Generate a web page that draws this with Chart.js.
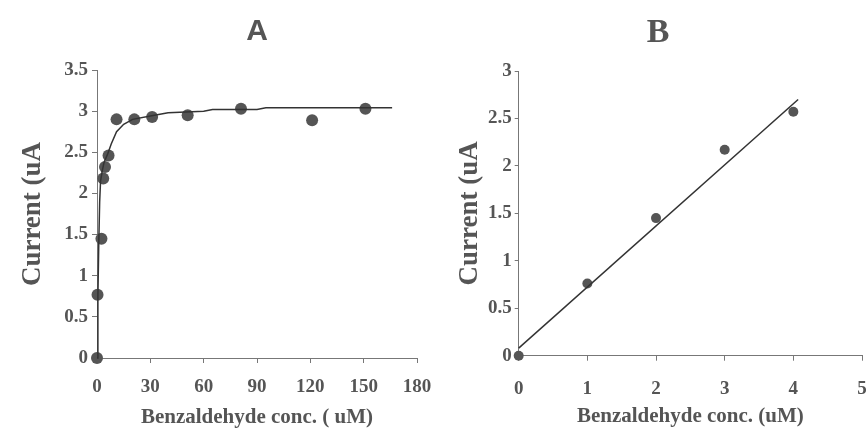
<!DOCTYPE html>
<html>
<head>
<meta charset="utf-8">
<script src="https://cdn.jsdelivr.net/npm/chart.js@4"></script>
<style>
  body { margin: 0; background: #fff; }
  #wrap { position: relative; width: 867px; height: 435px; overflow: hidden; }
  canvas { position: absolute; top: 0; }
  #chartA { left: 0; }
  #chartB { left: 454px; }
</style>
</head>
<body>
<div id="wrap">
  <canvas id="chartA" width="445" height="435"></canvas>
  <canvas id="chartB" width="430" height="435"></canvas>
</div>
<script>
// Panel A: measured points and fitted saturation curve
const concA = [0, 0.3, 2.5, 3.5, 4.5, 6.5, 11, 21, 31, 51, 81, 121, 151];
const currA = [0, 0.77, 1.45, 2.18, 2.32, 2.46, 2.90, 2.90, 2.93, 2.95, 3.03, 2.89, 3.03];
const fitAx = [0, 0.5, 1, 1.5, 2, 3, 4, 6, 8, 11, 15, 20, 30, 40, 60, 65, 90, 95, 150, 166];
const fitAy = [0, 0.75, 1.4, 1.9, 2.15, 2.28, 2.38, 2.48, 2.6, 2.75, 2.84, 2.9, 2.94, 2.98, 3.0, 3.02, 3.02, 3.04, 3.04, 3.04];
const xTicksA = [0, 30, 60, 90, 120, 150, 180];
const yTicksA = [0, 0.5, 1, 1.5, 2, 2.5, 3, 3.5];

// Panel B: measured points and linear fit
const concB = [0, 1, 2, 3, 4];
const currB = [0, 0.76, 1.45, 2.17, 2.57];
const fitBx = [0, 4.07];
const fitBy = [0.08, 2.70];
const xTicksB = [0, 1, 2, 3, 4, 5];
const yTicksB = [0, 0.5, 1, 1.5, 2, 2.5, 3];

const xTitleA = "Benzaldehyde conc. ( uM)";
const xTitleB = "Benzaldehyde conc. (uM)";
const yTitle = "Current (uA";

const grey = "#555";
const axisCol = "#777";
const serif = "'Liberation Serif', 'Times New Roman', serif";

function pts(xs, ys) {
  return xs.map((x, i) => ({ x: x, y: ys[i] }));
}

function setTicks(list) {
  return s => { s.ticks = list.map(v => ({ value: v })); };
}

function makeChart(id, o) {
  return new Chart(document.getElementById(id), {
    type: "scatter",
    data: {
      datasets: [
        {
          data: pts(o.fitX, o.fitY),
          showLine: true,
          borderColor: "#333",
          borderWidth: 1.5,
          pointRadius: 0,
          tension: 0,
          clip: false
        },
        {
          data: pts(o.px, o.py),
          backgroundColor: grey,
          borderColor: grey,
          pointRadius: o.r,
          pointBorderWidth: 0,
          clip: false
        }
      ]
    },
    options: {
      responsive: false,
      animation: false,
      devicePixelRatio: 1,
      layout: { padding: { left: 0, right: o.padRight, top: 0, bottom: 0 } },
      plugins: {
        legend: { display: false },
        tooltip: { enabled: false },
        title: {
          display: true,
          text: o.title,
          color: grey,
          fullSize: o.titleFull,
          font: o.titleFont,
          padding: o.titlePad
        }
      },
      scales: {
        x: {
          type: "linear",
          min: 0,
          max: o.xTicks[o.xTicks.length - 1],
          afterBuildTicks: setTicks(o.xTicks),
          afterFit: s => { s.height = o.xH; },
          border: { color: axisCol, width: 1 },
          grid: { drawOnChartArea: false, color: axisCol, tickLength: 5 },
          ticks: {
            color: grey,
            padding: o.xTickPad,
            callback: v => String(v),
            font: { family: serif, size: 19, weight: "bold" }
          },
          title: {
            display: true,
            text: o.xTitle,
            color: grey,
            font: { family: serif, size: 21, weight: "bold" },
            padding: { top: 0, bottom: o.xTitlePad }
          }
        },
        y: {
          min: 0,
          max: o.yTicks[o.yTicks.length - 1],
          afterBuildTicks: setTicks(o.yTicks),
          afterFit: s => { s.width = o.yW; },
          border: { color: axisCol, width: 1 },
          grid: { drawOnChartArea: false, color: axisCol, tickLength: o.yTickLen },
          ticks: {
            color: grey,
            padding: o.yTickPad,
            callback: v => String(v),
            font: { family: serif, size: 19, weight: "bold" }
          },
          title: {
            display: true,
            text: yTitle,
            color: grey,
            font: { family: serif, size: 27, weight: "bold" },
            padding: { top: o.yTitlePad, bottom: 0 }
          }
        }
      }
    }
  });
}

makeChart("chartA", {
  px: concA, py: currA, fitX: fitAx, fitY: fitAy, r: 6,
  title: "A", titleFull: false,
  titleFont: { family: "'Liberation Sans', Arial, sans-serif", size: 30, weight: "bold" },
  titlePad: { top: 14, bottom: 20 },
  padRight: 28,
  xTicks: xTicksA, xH: 77, xTickPad: 13, xTitle: xTitleA, xTitlePad: 4.4,
  yTicks: yTicksA, yW: 97, yTickLen: 5, yTickPad: 4, yTitlePad: 16.8
});

makeChart("chartB", {
  px: concB, py: currB, fitX: fitBx, fitY: fitBy, r: 5,
  title: "B", titleFull: true,
  titleFont: { family: serif, size: 34, weight: "bold" },
  titlePad: { top: 12.6, bottom: 17.6 },
  padRight: 22,
  xTicks: xTicksB, xH: 79.3, xTickPad: 16.7, xTitle: xTitleB, xTitlePad: 5.7,
  yTicks: yTicksB, yW: 64.7, yTickLen: 4, yTickPad: 3, yTitlePad: 0
});
</script>
</body>
</html>
